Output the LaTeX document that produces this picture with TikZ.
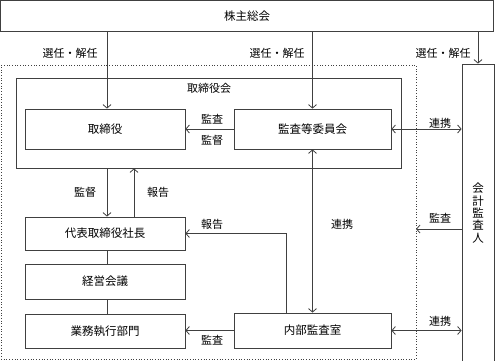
\documentclass[tikz,border=0pt]{standalone}
\usepackage{fontspec}
\setmainfont{Noto Sans CJK JP}
\usetikzlibrary{arrows.meta}

\tikzset{
    box/.style={draw=black!75, line width=0.8pt, inner sep=0pt, font=\fontsize{11.5}{12}\selectfont},
    arr/.style={draw=black!75, line width=0.8pt, -{Straight Barb[length=3.5pt,width=8pt]}},
    darr/.style={draw=black!75, line width=0.8pt, {Straight Barb[length=3.5pt,width=8pt]}-{Straight Barb[length=3.5pt,width=8pt]}},
    lnk/.style={draw=black!75, line width=0.8pt},
    lbl/.style={inner sep=0pt, font=\fontsize{11}{12}\selectfont}
}

\begin{document}
\begin{tikzpicture}[x=1pt, y=-1pt]
    \useasboundingbox (0,0) rectangle (495,361);

    % Shareholders meeting
    \node[box, minimum width=493pt, minimum height=31pt] (kabu) at (247,16) {株主総会};

    % Audit area (dotted) and board of directors
    \node[draw=black!75, dotted, line width=0.7pt, minimum width=415pt, minimum height=294pt, inner sep=0pt] (area) at (208.5,212) {};
    \node[box, minimum width=385pt, minimum height=90pt] (board) at (208.5,123) {};
    \node[lbl] (boardlbl) at (209,88) {取締役会};

    % Boxes
    \node[box, minimum width=160pt, minimum height=40pt] (tori) at (105,129) {取締役};
    \node[box, minimum width=157pt, minimum height=40pt] (iin) at (312.5,129) {監査等委員会};
    \node[box, minimum width=160pt, minimum height=33pt] (shacho) at (105,233.5) {代表取締役社長};
    \node[box, minimum width=160pt, minimum height=35pt] (keiei) at (105,281.5) {経営会議};
    \node[box, minimum width=160pt, minimum height=34pt] (gyomu) at (105,331) {業務執行部門};
    \node[box, minimum width=157pt, minimum height=35pt] (naibu) at (312.5,330.5) {内部監査室};
    \node[box, minimum width=32pt, minimum height=298pt, align=center,
          font=\fontsize{11.5}{12.3}\selectfont] (kaikei) at (478,213) {会\\計\\監\\査\\人};

    % Election arrows
    \draw[arr] ([xshift=2pt]tori.north |- kabu.south) -- ([xshift=2pt]tori.north);
    \draw[arr] (iin.north |- kabu.south) -- (iin.north);
    \draw[arr] (kaikei.north |- kabu.south) -- (kaikei.north);
    \node[lbl] (sen1) at (70,53) {選任・解任};
    \node[lbl] (sen2) at (277,53) {選任・解任};
    \node[lbl] (sen3) at (443,53) {選任・解任};

    % Inside the board
    \draw[arr] (iin.west) -- (tori.east);
    \node[lbl] (kansa1) at (212,119) {監査};
    \node[lbl] (kantoku1) at (212,140) {監督};

    % Board <-> president
    \draw[arr] ([xshift=2pt]board.south -| tori.south) -- ([xshift=2pt]shacho.north);
    \draw[arr] ([xshift=29pt]shacho.north) -- ([xshift=29pt]board.south -| shacho.north);
    \node[lbl] (kantoku2) at (85,192) {監督};
    \node[lbl] (hokoku1) at (158,192) {報告};

    % Execution chain
    \draw[lnk] ([xshift=2pt]shacho.south) -- ([xshift=2pt]keiei.north);
    \draw[lnk] ([xshift=2pt]keiei.south) -- ([xshift=2pt]gyomu.north);

    % Internal audit office
    \draw[arr] ([xshift=-26.5pt]naibu.north) |- (shacho.east);
    \node[lbl] (hokoku2) at (212,224) {報告};
    \draw[darr] (iin.south) -- (naibu.north);
    \node[lbl] (renkei1) at (342,224) {連携};
    \draw[arr] (naibu.west) -- (naibu.west -| gyomu.east);
    \node[lbl] (kansa2) at (212,340) {監査};

    % Accounting auditor
    \coordinate (kchk) at (416,229);
    \draw[darr] (iin.east) -- (iin.east -| kaikei.west);
    \node[lbl] (renkei2) at (440,123) {連携};
    \draw[arr] (kchk -| kaikei.west) -- (kchk);
    \node[lbl] (kansa3) at (440,218) {監査};
    \draw[darr] (naibu.east) -- (naibu.east -| kaikei.west);
    \node[lbl] (renkei3) at (440,321) {連携};

\end{tikzpicture}
\end{document}
